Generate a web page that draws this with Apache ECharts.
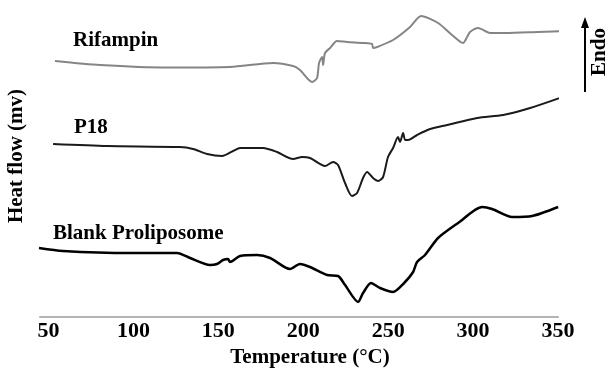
<!DOCTYPE html>
<html>
<head>
<meta charset="utf-8">
<script src="https://cdn.jsdelivr.net/npm/echarts@6/dist/echarts.min.js"></script>
<style>
  html, body { margin: 0; padding: 0; background: #fff; }
  #chart { width: 610px; height: 370px; }
</style>
</head>
<body>
<div id="chart"></div>
<script>
// Temperature (°C) / heat flow (arbitrary units)
const rifampinT = [53.8, 80.3, 119.8, 156.9, 182.2, 194, 198.1, 205.2, 208.1, 209.3, 211.1, 211.7, 212.8, 215.8, 219.9, 225.8, 235.2, 240.5, 241.1, 243.5, 252.9, 262.9, 269.4, 279.4, 287.6, 294.1, 296.5, 298.2, 303, 310, 318.9, 338.3, 357.1];
const rifampinHF = [256, 252, 249.5, 250, 254, 251, 247, 235, 239, 254, 260, 252, 264, 269, 276, 275, 274, 273, 269, 270, 277, 290, 301, 294, 282, 274, 280, 285, 289, 284, 284, 285, 286];

const p18T = [52.7, 84.5, 127.4, 135.1, 143.4, 152.2, 158.7, 162.8, 170.4, 176.3, 184.6, 194, 199.3, 204, 212.8, 217.6, 220.5, 224.6, 228.7, 231.7, 235.2, 237.6, 241.1, 244.1, 247, 249.9, 252.9, 255.8, 257, 258.8, 260, 261.7, 267, 274.7, 284.7, 302.4, 317.7, 333.6, 356];
const p18HF = [173, 171, 170, 168, 163, 161, 166, 169, 169, 169, 165, 158, 160, 159, 151, 155, 152, 134, 121, 124, 139, 145, 139, 136, 140, 160, 169, 180, 175, 184, 177, 177, 182, 188, 192, 199, 202, 209, 222];

const blankT = [44.4, 58.5, 98, 125.7, 133.3, 145.1, 149.2, 152.8, 155.7, 156.9, 162.8, 172.8, 180.5, 192.2, 198.1, 204, 214, 220.5, 224.6, 232.3, 235.2, 239.9, 245.2, 252.9, 259.4, 264.7, 267, 271.7, 279.4, 291.2, 305.3, 311.2, 323, 334.8, 350.1];
const blankHF = [69, 66, 64, 64, 59, 52, 53, 57, 58, 55, 61, 62, 59, 48, 53, 50, 42, 41, 32, 15, 24, 34, 29, 25, 34, 45, 55, 62, 79, 94, 110, 108, 100, 101, 110];

const tempTicks = [50, 100, 150, 200, 250, 300, 350];

const zip = (xs, ys) => xs.map((x, i) => [x, ys[i]]);
const serif = '"Liberation Serif", "Times New Roman", serif';

const chart = echarts.init(document.getElementById('chart'));

const lineSeries = (name, xs, ys, color, width) => ({
  name: name,
  type: 'line',
  data: zip(xs, ys),
  smooth: 0.25,
  showSymbol: false,
  clip: false,
  lineStyle: { color: color, width: width },
  silent: true
});

chart.setOption({
  animation: false,
  grid: { left: 40, right: 52, top: 0, bottom: 53 },
  xAxis: {
    type: 'value',
    min: 45,
    max: 350,
    axisLine: { show: true, lineStyle: { color: '#b4b4b4', width: 2 } },
    axisTick: { show: false },
    splitLine: { show: false },
    axisLabel: {
      customValues: tempTicks,
      margin: 3,
      color: '#000',
      fontFamily: serif,
      fontWeight: 'bold',
      fontSize: 22
    }
  },
  yAxis: {
    type: 'value',
    min: 0,
    max: 317,
    show: false
  },
  series: [
    lineSeries('Rifampin', rifampinT, rifampinHF, '#858585', 2),
    lineSeries('P18', p18T, p18HF, '#1a1a1a', 2),
    lineSeries('Blank Proliposome', blankT, blankHF, '#000', 2.5)
  ],
  graphic: [
    { type: 'text', left: 73, top: 30, style: { text: 'Rifampin', font: 'bold 21px ' + serif, fill: '#000' } },
    { type: 'text', left: 74, top: 117, style: { text: 'P18', font: 'bold 21px ' + serif, fill: '#000' } },
    { type: 'text', left: 53, top: 223, style: { text: 'Blank Proliposome', font: 'bold 21px ' + serif, fill: '#000' } },
    { type: 'text', x: 310, y: 358, style: { text: 'Temperature (°C)', font: 'bold 21px ' + serif, fill: '#000', align: 'center', verticalAlign: 'middle' } },
    { type: 'text', x: 17, y: 156, rotation: Math.PI / 2, style: { text: 'Heat flow (mv)', font: 'bold 21px ' + serif, fill: '#000', align: 'center', verticalAlign: 'middle' } },
    { type: 'text', x: 600, y: 52, rotation: Math.PI / 2, style: { text: 'Endo', font: 'bold 21px ' + serif, fill: '#000', align: 'center', verticalAlign: 'middle' } },
    { type: 'line', shape: { x1: 585, y1: 92, x2: 585, y2: 26 }, style: { stroke: '#000', lineWidth: 2 } },
    { type: 'polygon', shape: { points: [[585, 17], [581, 28], [589, 28]] }, style: { fill: '#000' } }
  ]
});
</script>
</body>
</html>
